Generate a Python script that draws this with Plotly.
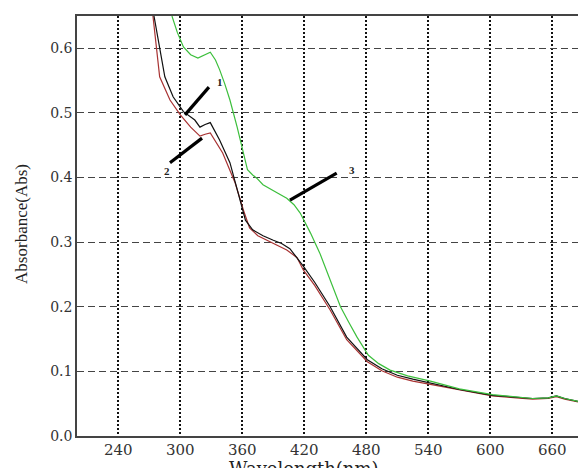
import plotly.graph_objects as go

# ---- data ----
wl1 = [274.5, 285, 293, 300, 303, 314, 319, 324, 329, 338, 348, 356, 363, 370, 380, 390, 398, 406,
       419, 430, 445, 461, 481, 495, 510, 525, 542, 570, 602, 625, 641, 656, 664, 672, 682, 692.6]
abs1 = [0.650, 0.556, 0.525, 0.509, 0.502, 0.489, 0.478, 0.482, 0.485, 0.458, 0.423, 0.376, 0.334,
        0.319, 0.310, 0.303, 0.298, 0.290, 0.263, 0.238, 0.200, 0.153, 0.118, 0.104, 0.094, 0.088,
        0.082, 0.072, 0.063, 0.060, 0.058, 0.059, 0.062, 0.058, 0.055, 0.051]

wl2 = [273.5, 280, 290, 300, 310, 319, 324, 329, 341, 353, 361, 367, 375, 384, 395, 403, 413, 419,
       430, 445, 461, 481, 495, 510, 525, 542, 570, 602, 625, 641, 656, 664, 672, 682, 692.6]
abs2 = [0.650, 0.556, 0.520, 0.497, 0.478, 0.464, 0.467, 0.469, 0.438, 0.392, 0.350, 0.322, 0.310,
        0.303, 0.294, 0.288, 0.276, 0.257, 0.233, 0.195, 0.149, 0.115, 0.101, 0.091, 0.085, 0.080,
        0.071, 0.062, 0.059, 0.057, 0.058, 0.061, 0.057, 0.054, 0.050]

wl3 = [291.9, 297, 303, 310, 317, 323, 329, 334, 338, 343, 348, 355, 358, 361, 365, 370, 374, 380,
       387, 394, 403, 410, 416, 426, 435, 445, 455, 463, 471, 482, 492, 503, 520, 542, 570, 602, 625,
       641, 656, 664, 672, 682, 692.6]
abs3 = [0.650, 0.625, 0.602, 0.590, 0.585, 0.589, 0.594, 0.582, 0.567, 0.545, 0.520, 0.478, 0.458,
        0.435, 0.412, 0.404, 0.399, 0.389, 0.382, 0.376, 0.368, 0.358, 0.345, 0.314, 0.283, 0.243,
        0.200, 0.176, 0.153, 0.125, 0.112, 0.102, 0.093, 0.085, 0.073, 0.064, 0.060, 0.058, 0.059,
        0.062, 0.058, 0.055, 0.051]

x_ticks = [240, 300, 360, 420, 480, 540, 600, 660]
y_ticks = [0.0, 0.1, 0.2, 0.3, 0.4, 0.5, 0.6]

# callout lines: (x0, y0, x1, y1, label, label_x, label_y)
callouts = [
    (304.5, 0.497, 327.7, 0.540, "1", 338.4, 0.548),
    (290.0, 0.423, 321.0, 0.461, "2", 287.0, 0.410),
    (406.1, 0.365, 451.3, 0.407, "3", 466.1, 0.412),
]

fig = go.Figure()
fig.add_trace(go.Scatter(x=wl2, y=abs2, mode="lines", line=dict(color="#a83232", width=1.2)))
fig.add_trace(go.Scatter(x=wl1, y=abs1, mode="lines", line=dict(color="#111111", width=1.2)))
fig.add_trace(go.Scatter(x=wl3, y=abs3, mode="lines", line=dict(color="#3cbf3c", width=1.2)))

for x0, y0, x1, y1, lab, lx, ly in callouts:
    fig.add_shape(type="line", x0=x0, y0=y0, x1=x1, y1=y1, xref="x", yref="y",
                  line=dict(color="black", width=3.2))
    fig.add_annotation(x=lx, y=ly, xref="x", yref="y", text="<b>%s</b>" % lab, showarrow=False,
                       font=dict(family="Liberation Serif", size=11, color="#222"))

fig.add_annotation(xref="paper", yref="paper", x=-0.108, y=0.505, xanchor="center",
                   yanchor="middle", text="Absorbance(Abs)", textangle=-90, showarrow=False,
                   font=dict(family="Liberation Serif", size=17, color="#222"))
fig.add_annotation(xref="paper", yref="paper", x=0.446, y=-0.047, xanchor="center",
                   yanchor="top", text="Wavelength(nm)", showarrow=False,
                   font=dict(family="DejaVu Serif", size=18, color="#222"))

fig.update_layout(
    width=578, height=460,
    margin=dict(l=69, r=0, t=8, b=32, pad=0),
    paper_bgcolor="white", plot_bgcolor="white",
    showlegend=False,
)
fig.update_xaxes(range=[200, 692.6], tickvals=x_ticks, ticktext=[str(v) for v in x_ticks],
                 showgrid=True, gridcolor="#111111", gridwidth=1.5, griddash="2px,2px",
                 showline=True, linecolor="#444444", linewidth=1.5, mirror=True,
                 ticks="", zeroline=False, automargin=False, ticklabelstandoff=-1,
                 tickfont=dict(family="DejaVu Serif", size=15, color="#333"))
fig.update_yaxes(range=[0, 0.65], tickvals=y_ticks, ticktext=["%.1f" % v for v in y_ticks],
                 showgrid=True, gridcolor="#444444", gridwidth=1, griddash="7px,4px",
                 showline=True, linecolor="#444444", linewidth=1.5,
                 ticks="", zeroline=False, automargin=False,
                 tickfont=dict(family="DejaVu Serif", size=14, color="#333"))

fig.write_html("out.html")
